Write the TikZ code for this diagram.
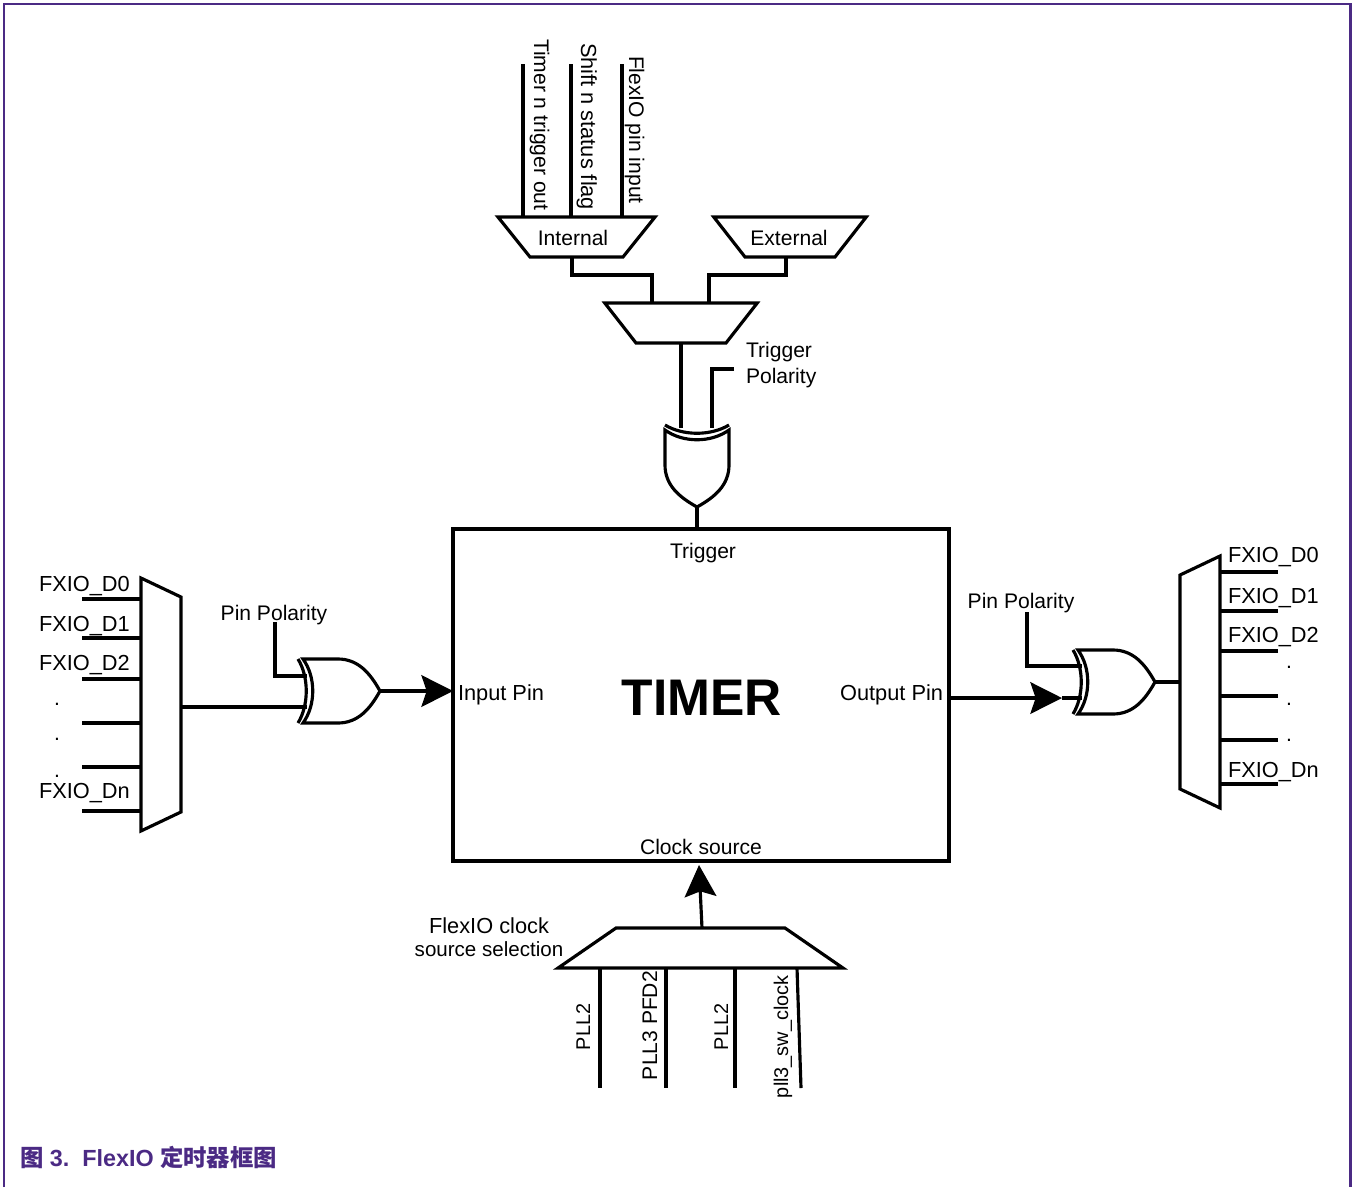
\documentclass[tikz,border=0pt]{standalone}
\usepackage{fontspec}
\setmainfont{Liberation Sans}
\newfontfamily\cjk{Noto Sans CJK SC}
\usetikzlibrary{arrows.meta, positioning, calc, shapes.geometric}
\definecolor{framepurple}{HTML}{4B2A84}

\tikzset{
    wire/.style={line width=1.8pt},
    bigarrow/.style={wire, -{Stealth[length=18pt, width=18pt, inset=3pt]}},
    muxbox/.style={draw, line width=1.8pt, fill=white, trapezium, inner sep=0, outer sep=0, text depth=0pt},
    label/.style={font=\fontsize{12}{13}\selectfont, inner sep=0, outer sep=0, anchor=base},
    widelabel/.style={label, font=\fontsize{12.4}{13}\selectfont},
    xorgate/.pic={
        \draw[wire] (0,-32) .. controls (11,-14) and (11,14) .. (0,32);
        \draw[wire, fill=white] (5,-32) .. controls (18,-14) and (18,14) .. (5,32) -- (40,32)
            .. controls (60,32) and (72,18) .. (82,0) .. controls (72,-18) and (60,-32) .. (40,-32) -- cycle;
        \coordinate (-out) at (82,0);
    }
}

\begin{document}
\begin{tikzpicture}[x=0.02cm, y=-0.02cm]
    \useasboundingbox (0,0) rectangle (1352,1187);

    % Frame
    \draw[framepurple, line width=1.7pt] (4,1187) -- (4,4) -- (1350,4) -- (1350,1187);
    \node[label, anchor=base west, font=\fontsize{13.3}{14}\selectfont\bfseries, text=framepurple] (caption) at (20,1166)
        {{\cjk 图} 3.\ \ FlexIO {\cjk 定时器框图}};

    % Timer
    \node[draw, line width=1.8pt, minimum width=9.92cm, minimum height=6.64cm, inner sep=0, outer sep=0] (timer) at (701,695) {};
    \node[label] (trigname) at (703,558) {Trigger};
    \node[widelabel, anchor=base west] (inname) at (458,700) {Input Pin};
    \node[widelabel, anchor=base east] (outname) at (943,700) {Output Pin};
    \node[label, font=\fontsize{29.3}{30}\selectfont\bfseries] (timername) at (702,715) {TIMER};
    \node[label] (clkname) at (701,854) {Clock source};

    % Trigger muxes
    \node[muxbox, shape border rotate=180, trapezium angle=51.3, text width=1.86cm, text height=0.8cm] (internal) at (576.5,237) {};
    \node[muxbox, shape border rotate=180, trapezium angle=52, text width=1.8cm, text height=0.8cm] (external) at (790,237) {};
    \node[muxbox, shape border rotate=180, trapezium angle=52, text width=1.8cm, text height=0.8cm] (selmux) at (681,323) {};
    \node[label] (intname) at (573,245) {Internal};
    \node[label] (extname) at (789,245) {External};

    \foreach \x/\name in {523/trgout, 571/shiftflag, 622/pinin} {
        \coordinate (\name) at (\x,64);
        \draw[wire] (\name) -- (\name |- internal.north);
    }
    \node[label, anchor=base west, rotate=-90] (trgoutname) at (534,39) {Timer n trigger out};
    \node[widelabel, anchor=base west, rotate=-90] (shiftname) at (581,43) {Shift n status flag};
    \node[label, anchor=base west, rotate=-90] (pininname) at (629,56) {FlexIO pin input};

    \coordinate (joinl) at (572,275);
    \coordinate (joinr) at (786,275);
    \coordinate (sell) at (652,303);
    \coordinate (selr) at (709,303);
    \draw[wire] (joinl |- internal.south) -- (joinl) -| (sell);
    \draw[wire] (joinr |- external.south) -- (joinr) -| (selr);

    % Trigger xor
    \coordinate (selout) at (681,428);
    \coordinate (trgpol) at (734,369);
    \coordinate (trgpolin) at (712,428);
    \draw[wire] (selout |- selmux.south) -- (selout);
    \draw[wire] (trgpol) -| (trgpolin);
    \pic[rotate=-90] (xt) at (697,425) {xorgate};
    \draw[wire] (xt-out) -- (xt-out |- timer.north);
    \node[label, anchor=base west] (trgpolname) at (746,357) {Trigger};
    \node[label, anchor=base west] (trgpolnameb) at (746,383) {Polarity};

    % Input side
    \node[muxbox, shape border rotate=270, trapezium angle=64.6, text width=0.8cm, text height=4.3cm] (inmux) at (161,704.5) {};
    \foreach \y [count=\i] in {599, 638, 679, 723, 767, 811} {
        \coordinate (inwire\i) at (82,\y);
        \draw[wire] (inwire\i) -- (inwire\i -| inmux.west);
    }
    \foreach \y/\txt [count=\i] in {591/D0, 631/D1, 670/D2, 798/Dn} {
        \node[widelabel, anchor=base west] (inname\i) at (39,\y) {FXIO\_\txt};
    }
    \foreach \y [count=\i] in {705, 740, 777} {
        \node[label] (indot\i) at (57,\y) {.};
    }
    \coordinate (inpol) at (275,622);
    \coordinate (inpolin) at (307,676);
    \coordinate (insig) at (307,707);
    \draw[wire] (inpol) |- (inpolin);
    \draw[wire] (insig -| inmux.east) -- (insig);
    \pic (xl) at (298,691) {xorgate};
    \draw[bigarrow] (xl-out) -- (xl-out -| timer.west);
    \node[label] (inpolname) at (274,620) {Pin Polarity};

    % Output side
    \node[muxbox, shape border rotate=90, trapezium angle=64.6, text width=0.8cm, text height=4.28cm] (outmux) at (1200,682) {};
    \foreach \y [count=\i] in {572, 611, 651, 696, 740, 784} {
        \coordinate (outwire\i) at (1278,\y);
        \draw[wire] (outwire\i) -- (outwire\i -| outmux.east);
    }
    \foreach \y/\txt [count=\i] in {562/D0, 603/D1, 642/D2, 777/Dn} {
        \node[widelabel, anchor=base west] (outname\i) at (1228,\y) {FXIO\_\txt};
    }
    \foreach \y [count=\i] in {668, 705, 741} {
        \node[label] (outdot\i) at (1289,\y) {.};
    }
    \coordinate (outpol) at (1027,612);
    \coordinate (outpolin) at (1082,666);
    \coordinate (outtip) at (1062,698);
    \coordinate (outsig) at (1082,698);
    \draw[wire] (outpol) |- (outpolin);
    \draw[wire] (outtip) -- (outsig);
    \draw[bigarrow] (outtip -| timer.east) -- (outtip);
    \pic (xr) at (1073,682) {xorgate};
    \draw[wire] (xr-out) -- (xr-out -| outmux.west);
    \node[label] (outpolname) at (1021,608) {Pin Polarity};

    % Clock source
    \node[muxbox, trapezium angle=34.6, text width=3.38cm, text height=0.8cm] (clkmux) at (700.5,948) {};
    \coordinate (clktip) at (699,865);
    \coordinate (clkout) at (702,928);
    \draw[bigarrow] (clkout) -- (clktip);
    \foreach \x/\xb [count=\i] in {600/600, 666/666, 735/735, 797/801} {
        \coordinate (clkfoot\i) at (\xb,1088);
        \coordinate (clkin\i) at (\x,968);
        \draw[wire] (clkin\i) -- (clkfoot\i);
    }
    \node[label, anchor=base west, rotate=90, font=\fontsize{11.3}{13}\selectfont] (pllname) at (590,1050) {PLL2};
    \node[label, anchor=base west, rotate=90] (pfdname) at (657,1080) {PLL3 PFD2};
    \node[label, anchor=base west, rotate=90, font=\fontsize{11.3}{13}\selectfont] (pllnameb) at (728,1050) {PLL2};
    \node[label, anchor=base west, rotate=90, font=\fontsize{11.3}{13}\selectfont] (swname) at (788,1098) {pll3\_sw\_clock};
    \node[widelabel] (clksel) at (489,933) {FlexIO clock};
    \node[label, font=\fontsize{11.7}{13}\selectfont] (clkselb) at (489,956) {source selection};
\end{tikzpicture}
\end{document}
